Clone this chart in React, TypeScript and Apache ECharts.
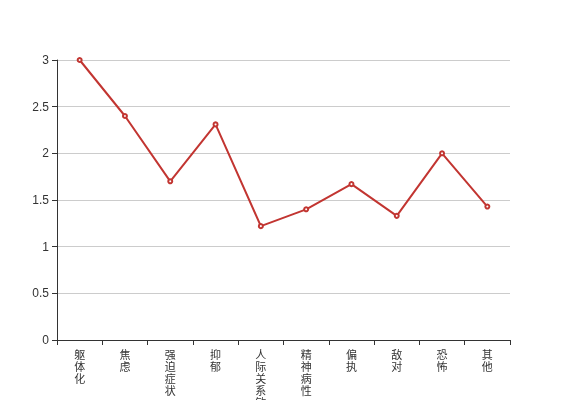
import React, { useEffect, useRef } from "react";
import * as echarts from "echarts";

const categories = ["躯体化", "焦虑", "强迫症状", "抑郁", "人际关系敏感", "精神病性", "偏执", "敌对", "恐怖", "其他"];
const values = [3, 2.4, 1.7, 2.31, 1.22, 1.4, 1.67, 1.33, 2.0, 1.43];

export default function App() {
  const ref = useRef<HTMLDivElement>(null);
  useEffect(() => {
    if (!ref.current) return;
    const chart = echarts.init(ref.current, null, { renderer: "svg" });
    chart.setOption({
      animation: false,
      grid: { left: 57, right: 57, top: 60, bottom: 60, containLabel: false, outerBoundsMode: "none" },
      xAxis: {
        type: "category",
        data: categories,
        boundaryGap: true,
        axisLine: { lineStyle: { color: "#333" } },
        axisTick: { show: true, lineStyle: { color: "#333" } },
        axisLabel: {
          interval: 0,
          color: "#333",
          fontSize: 11,
          lineHeight: 12,
          margin: 8,
          fontFamily: "Noto Sans CJK SC, sans-serif",
          formatter: (v: string) => v.split("").join("\n"),
        },
      },
      yAxis: {
        type: "value",
        min: 0,
        max: 3,
        interval: 0.5,
        axisLine: { show: true, lineStyle: { color: "#333" } },
        axisTick: { show: true, lineStyle: { color: "#333" } },
        axisLabel: { color: "#333", fontSize: 12, fontFamily: "sans-serif" },
        splitLine: { lineStyle: { color: "#ccc" } },
      },
      series: [
        {
          type: "line",
          data: values,
          symbol: "emptyCircle",
          symbolSize: 4,
          lineStyle: { color: "#c23531", width: 2 },
          itemStyle: { color: "#c23531" },
        },
      ],
    });
    return () => chart.dispose();
  }, []);
  return <div ref={ref} style={{ position: "fixed", left: 0, top: 0, width: 567, height: 400 }} />;
}
